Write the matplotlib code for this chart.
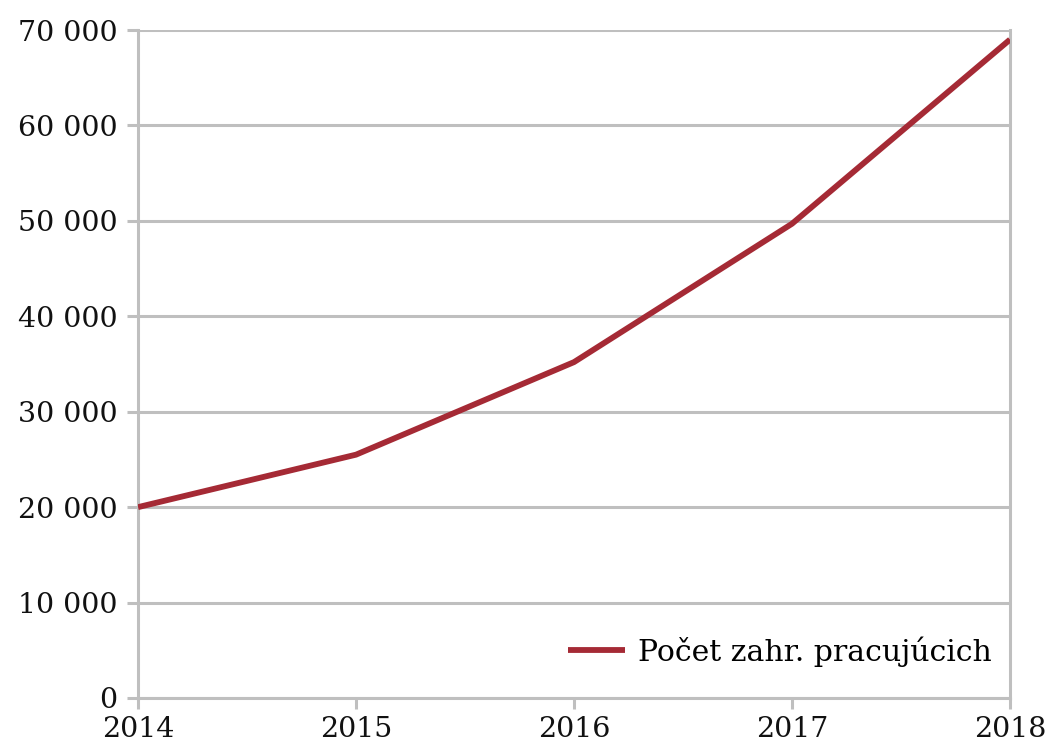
import matplotlib
matplotlib.use("Agg")
import matplotlib.pyplot as plt
from matplotlib.ticker import FuncFormatter

years = [2014, 2015, 2016, 2017, 2018]
workers = [20000, 25500, 35200, 49700, 69000]
series_label = "Počet zahr. pracujúcich"

GRID = "#bfbfbf"
LINE = "#a52a35"

plt.rcParams["font.family"] = ["DejaVu Serif"]

fig = plt.figure(figsize=(10.49, 7.51), dpi=100)
ax = fig.add_axes([0.1316, 0.0706, 0.9628 - 0.1316, 0.960 - 0.0706])

ax.plot(years, workers, color=LINE, lw=4.2, label=series_label, solid_capstyle="butt", zorder=3)

ax.set_xlim(2014, 2018)
ax.set_ylim(0, 70000)
ax.set_xticks(years)
ax.set_yticks(range(0, 70001, 10000))
ax.yaxis.set_major_formatter(FuncFormatter(lambda v, p: f"{int(v):,}".replace(",", " ")))

ax.grid(axis="y", color=GRID, lw=2.2, zorder=0)
for side in ["left", "right", "bottom"]:
    ax.spines[side].set_color(GRID)
    ax.spines[side].set_linewidth(2.2)
ax.spines["top"].set_visible(False)
ax.tick_params(axis="both", color=GRID, width=2.2, length=8, labelsize=20.5, labelcolor="#111111")
ax.tick_params(axis="y", pad=7)
ax.tick_params(axis="x", pad=5)

ax.legend(loc="lower right", frameon=False, fontsize=21.5, handlelength=1.9,
          handletextpad=0.45, borderaxespad=0.2, bbox_to_anchor=(1.0, 0.02))

fig.savefig("out.png", dpi=100)
